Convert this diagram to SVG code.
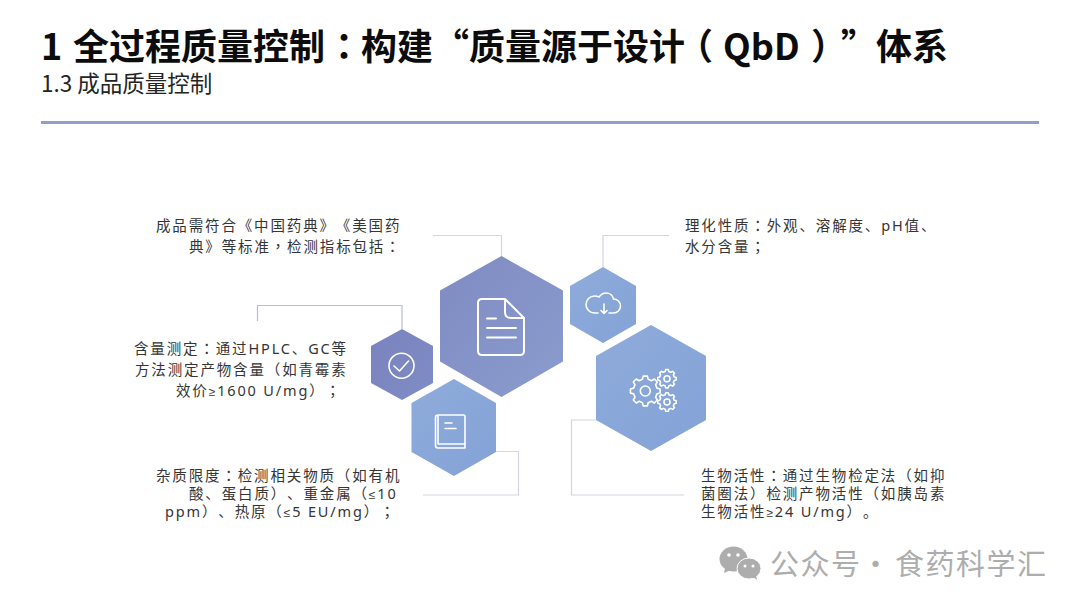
<svg xmlns="http://www.w3.org/2000/svg" xmlns:xlink="http://www.w3.org/1999/xlink" width="1080" height="608" viewBox="0 0 1080 608">
<style>
text{font-family:"Noto Sans CJK SC","Noto Sans",sans-serif;fill:#333;text-spacing-trim:space-all;opacity:.99}
.t{font-size:36px;font-weight:700;fill:#0a0a0a}
.s{font-size:22.5px;fill:#222}
.b{font-size:14.5px;letter-spacing:1.85px;font-family:"Noto Sans","Noto Sans CJK SC",sans-serif}
.h{font-feature-settings:"halt"}
.p{font-family:"Noto Sans CJK TC","Noto Sans",sans-serif}
.m{font-family:"Liberation Sans",sans-serif;font-size:12px}
.w{font-size:29px;fill:#adadad;letter-spacing:1.5px}
.c{fill:none;stroke:#d3d6e2;stroke-width:1.2}
.i{fill:none;stroke:#fff;stroke-width:1.6;stroke-linecap:round;stroke-linejoin:round}
</style>
<defs>
<linearGradient id="g1" x1="0" y1="0" x2="1" y2="1"><stop offset="0" stop-color="#7f8bc3"/><stop offset="1" stop-color="#8b9ccd"/></linearGradient>
<linearGradient id="g2" x1="0" y1="0" x2="1" y2="1"><stop offset="0" stop-color="#7a83bf"/><stop offset="1" stop-color="#7f8cc4"/></linearGradient>
<linearGradient id="g3" x1="0" y1="0" x2="1" y2="1"><stop offset="0" stop-color="#8eabdb"/><stop offset="1" stop-color="#84a2d6"/></linearGradient>
<path id="gear" vector-effect="non-scaling-stroke" d="M11.64-2.9 14.85-2.09 14.85 2.09 11.64 2.9 10.29 6.18 11.98 9.03 9.03 11.98 6.18 10.29 2.9 11.64 2.09 14.85-2.09 14.85-2.9 11.64-6.18 10.29-9.03 11.98-11.98 9.03-10.29 6.18-11.64 2.9-14.85 2.09-14.85-2.09-11.64-2.9-10.29-6.18-11.98-9.03-9.03-11.98-6.18-10.29-2.9-11.64-2.09-14.85 2.09-14.85 2.9-11.64 6.18-10.29 9.03-11.98 11.98-9.03 10.29-6.18Z"/>
</defs>
<rect width="1080" height="608" fill="#fff"/>
<g id="header">
<text class="t" x="41" y="60">1 <tspan x="73">全过程质量控制</tspan><tspan class="p h" x="335">：</tspan><tspan x="361">构建</tspan><tspan class="h" x="451">“</tspan><tspan x="469">质量源于设计</tspan><tspan class="h" x="695">（</tspan><tspan x="723">QbD</tspan><tspan class="h" x="811">）</tspan><tspan class="h" x="841">”</tspan><tspan x="876">体系</tspan></text>
<text class="s" x="41" y="92">1.3 成品质量控制</text>
<rect x="41" y="121" width="998" height="3" fill="#919fc9"/>
</g>
<g id="connectors">
<path class="c" d="M433 235.5H501.5V256"/>
<path class="c" style="stroke:#b9bedd" d="M257.500 321V305.500H402V329"/>
<path class="c" d="M496 451.500H518.500V495H423"/>
<path class="c" d="M603 267V235.500H669"/>
<path class="c" d="M596 420H571.500V495H684"/>
</g>
<g id="node-main">
<polygon points="501.500,256 563,290.500 563,361.500 501.500,397 440,361.500 440,290.500" fill="url(#g1)"/>
<path class="i" style="stroke-width:2" d="M505 299H482Q478 299 478 303V351Q478 355 482 355H520Q524 355 524 351V318ZM505 299V312Q505 318 511 318H524M487 318.500H496M487 328H516M487 337.500H516"/>
<text class="b" x="156" y="231">成品需符合《中国药典》《美国药</text>
<text class="b" x="189" y="252">典》等标准<tspan class="p">，</tspan>检测指标包括<tspan class="p">：</tspan></text>
</g>
<g id="node-assay">
<polygon points="402,329 433,346 433,383 402,400 371,383 371,346" fill="url(#g2)"/>
<circle class="i" cx="401.500" cy="365.700" r="12.500"/>
<path class="i" d="M394 366 399.500 371 408.500 361"/>
<text class="b" x="134" y="354">含量测定<tspan class="p">：</tspan>通过HPLC、GC等</text>
<text class="b" x="135" y="375">方法测定产物含量（如青霉素</text>
<text class="b" x="176" y="396">效价<tspan class="m">≥</tspan>1600 U/mg）<tspan class="p">；</tspan></text>
</g>
<g id="node-impurity">
<polygon points="454,379 496,403 496,452 454,476 411.500,452 411.500,403" fill="url(#g3)"/>
<path class="i" d="M438 415H463.500Q465 415 465 416.500V448H438Q435.500 448 435.500 445.500V417.500Q435.500 415 438 415ZM438 415V444H465M445 423H452M445 428.500H456"/>
<text class="b" x="156" y="481">杂质限度<tspan class="p">：</tspan>检测相关物质（如有机</text>
<text class="b" x="189" y="499">酸、蛋白质）、重金属（<tspan class="m">≤</tspan>10</text>
<text class="b" x="165" y="517">ppm）、热原（<tspan class="m">≤</tspan>5 EU/mg）<tspan class="p">；</tspan></text>
</g>
<g id="node-physchem">
<polygon points="603,267 636,286 636,324 603,343 570,324 570,286" fill="url(#g3)"/>
<path class="i" d="M598 313H594.500A8.500 8.500 0 0 1 594.500 296Q597 296 599 297Q602 293 606 293Q612 293 613.500 299A7 7 0 0 1 613.500 313H609M604 304V313M601 310.500 604 313.500 607 310.500"/>
<text class="b" x="685" y="231">理化性质<tspan class="p">：</tspan>外观、溶解度、pH值、</text>
<text class="b" x="685" y="252">水分含量<tspan class="p">；</tspan></text>
</g>
<g id="node-bioactivity">
<polygon points="651,325 706,356 706,420 651,451 596,420 596,356" fill="url(#g3)"/>
<use href="#gear" class="i" transform="translate(645.300 391)"/>
<circle class="i" cx="645.300" cy="391" r="5"/>
<use href="#gear" class="i" transform="translate(667 378.700) scale(.62)"/>
<circle class="i" cx="667" cy="378.700" r="3"/>
<use href="#gear" class="i" transform="translate(667 402) scale(.62)"/>
<circle class="i" cx="667" cy="402" r="3"/>
<text class="b" x="701" y="481">生物活性<tspan class="p">：</tspan>通过生物检定法（如抑</text>
<text class="b" x="701" y="499">菌圈法）检测产物活性（如胰岛素</text>
<text class="b" x="701" y="517">生物活性<tspan class="m">≥</tspan>24 U/mg）。</text>
</g>
<g id="watermark">
<ellipse cx="733.500" cy="559" rx="14" ry="12.500" fill="#adadad"/>
<path d="M725 568 724 573 731 570Z" fill="#adadad"/>
<ellipse cx="749" cy="568.500" rx="12" ry="10.500" fill="#adadad" stroke="#fff" stroke-width="1"/>
<path d="M753 577 757 580 756 575Z" fill="#adadad"/>
<circle cx="729" cy="555" r="1.800" fill="#fff"/><circle cx="738" cy="555" r="1.800" fill="#fff"/>
<circle cx="745" cy="566" r="1.500" fill="#fff"/><circle cx="753" cy="566" r="1.500" fill="#fff"/>
<text class="w" x="770" y="575">公众号<tspan x="861">·</tspan><tspan x="895">食药科学汇</tspan></text>
</g>
</svg>
